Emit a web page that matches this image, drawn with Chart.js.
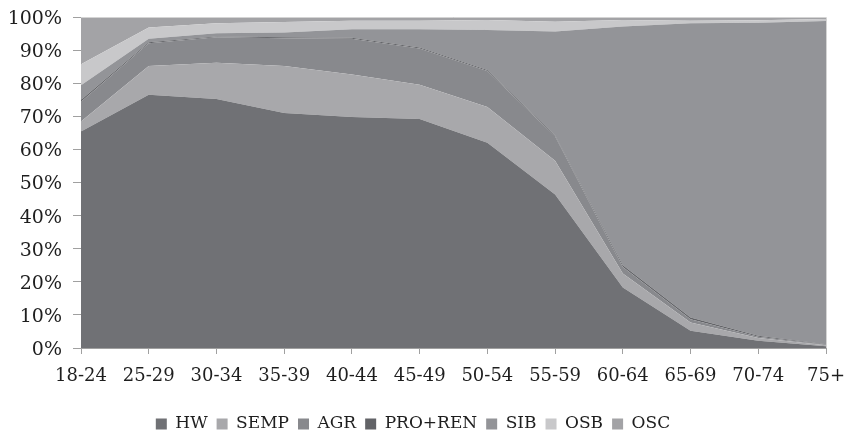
<!DOCTYPE html>
<html>
<head>
<meta charset="utf-8">
<script src="https://cdn.jsdelivr.net/npm/chart.js@4"></script>
<style>
  html, body { margin: 0; padding: 0; background: #ffffff; overflow: hidden; }
  #wrap { width: 844px; height: 435px; position: relative; }
</style>
</head>
<body>
<div id="wrap"><canvas id="c"></canvas></div>
<script>
const categories = ['18-24','25-29','30-34','35-39','40-44','45-49','50-54','55-59','60-64','65-69','70-74','75+'];
const yTickLabels = ['0%','10%','20%','30%','40%','50%','60%','70%','80%','90%','100%'];

const HW      = [65.4, 76.5, 75.2, 71.0, 69.8, 69.2, 62.0, 46.4, 18.3, 5.2, 2.2, 0.5];
const SEMP    = [3.0, 8.7, 11.0, 14.2, 12.8, 10.3, 10.8, 10.2, 4.2, 2.5, 0.8, 0.3];
const AGR     = [6.0, 6.9, 7.7, 8.4, 10.8, 11.0, 10.9, 7.4, 2.0, 1.0, 0.4, 0.2];
const PROREN  = [0.5, 0.3, 0.2, 0.3, 0.3, 0.3, 0.3, 0.3, 0.5, 0.5, 0.3, 0.1];
const SIB     = [4.5, 1.0, 1.0, 1.4, 2.6, 5.5, 12.1, 31.3, 72.1, 88.9, 94.6, 97.7];
const OSB     = [6.3, 3.4, 3.0, 3.2, 2.6, 2.6, 3.0, 3.0, 2.0, 0.8, 0.7, 0.6];
const OSC     = [14.3, 3.2, 1.9, 1.5, 1.1, 1.1, 0.9, 1.4, 0.9, 1.1, 1.0, 0.6];

const seriesNames  = ['HW','SEMP','AGR','PRO+REN','SIB','OSB','OSC'];
const seriesValues = [HW, SEMP, AGR, PROREN, SIB, OSB, OSC];
const seriesColors = ['#707175','#a8a8ab','#88898d','#626367','#939498','#c8c8ca','#a3a3a6'];

const FONT = "'DejaVu Serif', serif";
const TEXT = '#1e1e1e';

const datasets = seriesNames.map((name, i) => ({
  label: name,
  data: seriesValues[i],
  backgroundColor: seriesColors[i],
  borderColor: 'rgba(0,0,0,0)',
  borderWidth: 0,
  pointRadius: 0,
  pointHoverRadius: 0,
  tension: 0,
  fill: i === 0 ? 'origin' : '-1'
}));

const plotBorder = {
  id: 'plotBorder',
  afterDatasetsDraw(chart) {
    const a = chart.chartArea;
    const ctx = chart.ctx;
    ctx.save();
    ctx.strokeStyle = '#d4d4d4';
    ctx.lineWidth = 1;
    ctx.beginPath();
    ctx.moveTo(a.left, a.top + 0.5);
    ctx.lineTo(a.right + 0.5, a.top + 0.5);
    ctx.lineTo(a.right + 0.5, a.bottom);
    ctx.stroke();
    ctx.restore();
  }
};

new Chart(document.getElementById('c'), {
  type: 'line',
  data: { labels: categories, datasets },
  plugins: [plotBorder],
  options: {
    responsive: true,
    maintainAspectRatio: false,
    animation: false,
    layout: { autoPadding: false, padding: { top: 17, left: 0, right: 18, bottom: -7.5 } },
    plugins: {
      legend: {
        position: 'bottom',
        labels: {
          font: { family: FONT, size: 17 },
          color: TEXT,
          boxWidth: 11,
          boxHeight: 11,
          padding: 9
        }
      },
      tooltip: { enabled: false }
    },
    scales: {
      x: {
        offset: false,
        grid: { drawOnChartArea: false, drawTicks: true, tickLength: 6, color: '#a0a0a0' },
        border: { color: '#a0a0a0' },
        ticks: { font: { family: FONT, size: 18, lineHeight: 2.556 }, color: TEXT, padding: -1, maxRotation: 0, autoSkip: false },
        afterFit(scale) { scale.height = 58.5; }
      },
      y: {
        stacked: true,
        min: 0,
        max: 100,
        grid: { drawOnChartArea: false, drawTicks: true, tickLength: 8, color: '#a0a0a0' },
        border: { color: '#a0a0a0' },
        ticks: {
          stepSize: 10,
          font: { family: FONT, size: 19, lineHeight: 0.6 },
          color: TEXT,
          padding: 11,
          labelOffset: 2,
          callback: (v) => yTickLabels[Math.round(v / 10)]
        },
        afterFit(scale) { scale.width = 81; }
      }
    }
  }
});
</script>
</body>
</html>
